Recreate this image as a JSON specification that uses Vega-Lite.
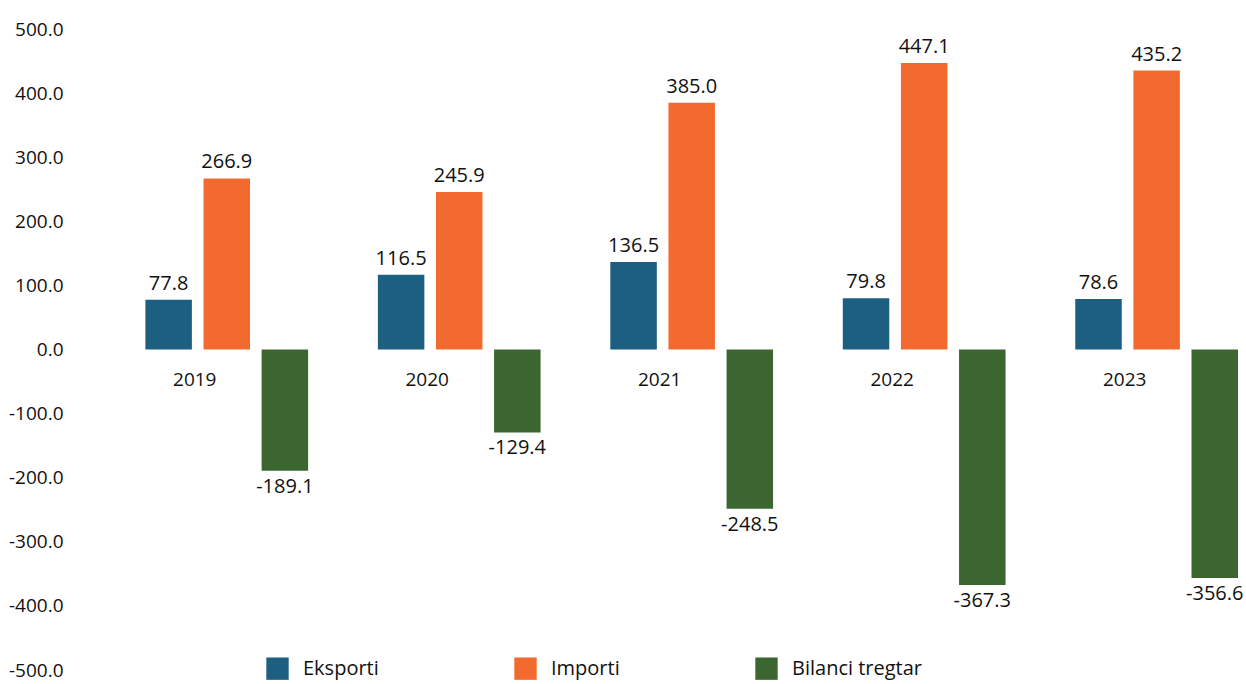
{
  "$schema": "https://vega.github.io/schema/vega-lite/v6.json",
  "width": 1246,
  "height": 684,
  "autosize": {"type": "fit", "contains": "padding"},
  "padding": {"left": 8, "right": 4, "top": 20, "bottom": 4},
  "config": {"view": {"stroke": null}, "font": "Open Sans"},
  "data": {
    "values": [
      {"year": "2019", "series": "Eksporti", "value": 77.8},
      {"year": "2019", "series": "Importi", "value": 266.9},
      {"year": "2019", "series": "Bilanci tregtar", "value": -189.1},
      {"year": "2020", "series": "Eksporti", "value": 116.5},
      {"year": "2020", "series": "Importi", "value": 245.9},
      {"year": "2020", "series": "Bilanci tregtar", "value": -129.4},
      {"year": "2021", "series": "Eksporti", "value": 136.5},
      {"year": "2021", "series": "Importi", "value": 385.0},
      {"year": "2021", "series": "Bilanci tregtar", "value": -248.5},
      {"year": "2022", "series": "Eksporti", "value": 79.8},
      {"year": "2022", "series": "Importi", "value": 447.1},
      {"year": "2022", "series": "Bilanci tregtar", "value": -367.3},
      {"year": "2023", "series": "Eksporti", "value": 78.6},
      {"year": "2023", "series": "Importi", "value": 435.2},
      {"year": "2023", "series": "Bilanci tregtar", "value": -356.6}
    ]
  },
  "encoding": {
    "x": {
      "field": "year",
      "type": "nominal",
      "scale": {"paddingInner": 0.3, "paddingOuter": 0.16, "align": 1},
      "axis": null
    }
  },
  "layer": [
    {
      "mark": {"type": "bar"},
      "encoding": {
        "xOffset": {"field": "series", "type": "nominal", "sort": ["Eksporti", "Importi", "Bilanci tregtar"], "scale": {"paddingInner": 0.2}},
        "y": {
          "field": "value",
          "type": "quantitative",
          "scale": {"domain": [-500, 500], "nice": false},
          "axis": {
            "title": null,
            "values": [-500, -400, -300, -200, -100, 0, 100, 200, 300, 400, 500],
            "labelExpr": "replace(format(datum.value, '.1f'), '\u2212', '-')",
            "grid": false,
            "domain": false,
            "ticks": false,
            "labelFontSize": 19,
            "labelColor": "#111111",
            "labelPadding": 8
          }
        },
        "color": {
          "field": "series",
          "type": "nominal",
          "sort": ["Eksporti", "Importi", "Bilanci tregtar"],
          "scale": {"domain": ["Eksporti", "Importi", "Bilanci tregtar"], "range": ["#1C5F80", "#F26A2E", "#3C6630"]},
          "legend": {
            "title": null,
            "orient": "none",
            "direction": "horizontal",
            "legendX": 195,
            "legendY": 628,
            "symbolType": "square",
            "symbolSize": 500,
            "symbolStrokeWidth": 0,
            "labelFontSize": 20,
            "labelColor": "#111111",
            "columnPadding": 135,
            "labelOffset": 14
          }
        }
      }
    },
    {
      "transform": [{"filter": "datum.value >= 0"}],
      "mark": {"type": "text", "fontSize": 20, "color": "#111111", "baseline": "bottom", "dy": -6, "text": {"expr": "format(datum.value, '.1f')"}},
      "encoding": {
        "xOffset": {"field": "series", "type": "nominal", "sort": ["Eksporti", "Importi", "Bilanci tregtar"], "scale": {"paddingInner": 0.2}},
        "y": {"field": "value", "type": "quantitative"}
      }
    },
    {
      "transform": [{"filter": "datum.value < 0"}],
      "mark": {"type": "text", "fontSize": 20, "color": "#111111", "baseline": "top", "dy": 6, "text": {"expr": "replace(format(datum.value, '.1f'), '\u2212', '-')"}},
      "encoding": {
        "xOffset": {"field": "series", "type": "nominal", "sort": ["Eksporti", "Importi", "Bilanci tregtar"], "scale": {"paddingInner": 0.2}},
        "y": {"field": "value", "type": "quantitative"}
      }
    },
    {
      "transform": [{"filter": "datum.series == 'Eksporti'"}],
      "mark": {"type": "text", "fontSize": 19, "fontWeight": "normal", "color": "#111111", "dy": 30, "dx": -32},
      "encoding": {
        "y": {"datum": 0},
        "text": {"field": "year"}
      }
    }
  ]
}
